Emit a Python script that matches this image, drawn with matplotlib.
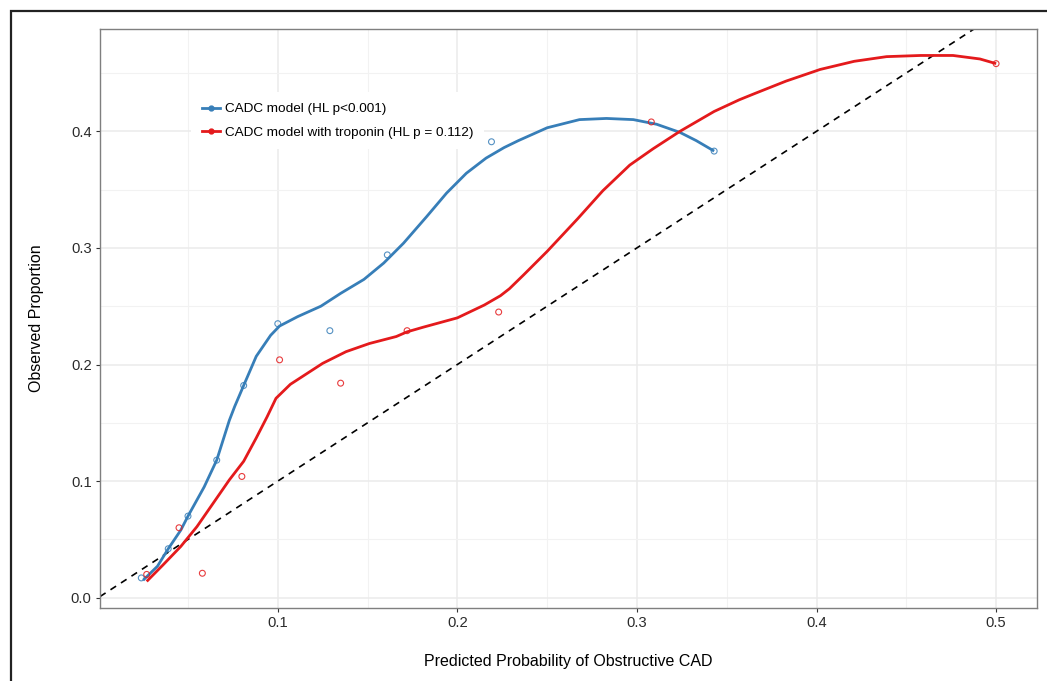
import matplotlib
matplotlib.use("Agg")
import matplotlib.pyplot as plt
from matplotlib.lines import Line2D
from matplotlib.ticker import MultipleLocator

plt.rcParams['font.family'] = ['Liberation Sans', 'DejaVu Sans']

# Observed vs predicted risk by decile
blue_pts_x = [0.024, 0.039, 0.050, 0.066, 0.081, 0.100, 0.129, 0.161, 0.219, 0.343]
blue_pts_y = [0.017, 0.042, 0.070, 0.118, 0.182, 0.235, 0.229, 0.294, 0.391, 0.383]
red_pts_x = [0.027, 0.045, 0.058, 0.080, 0.101, 0.135, 0.172, 0.223, 0.308, 0.500]
red_pts_y = [0.020, 0.060, 0.021, 0.104, 0.204, 0.184, 0.229, 0.245, 0.408, 0.458]

# Smoothed calibration curves
blue_curve_x = [0.025, 0.033, 0.039, 0.046, 0.050, 0.059, 0.066, 0.073, 0.076, 0.081,
                0.088, 0.096, 0.101, 0.111, 0.124, 0.135, 0.148, 0.159, 0.170, 0.183,
                0.194, 0.205, 0.216, 0.226, 0.234, 0.250, 0.268, 0.283, 0.298, 0.311,
                0.324, 0.333, 0.343]
blue_curve_y = [0.015, 0.027, 0.042, 0.058, 0.070, 0.095, 0.118, 0.152, 0.164, 0.182,
                0.207, 0.225, 0.233, 0.241, 0.250, 0.261, 0.273, 0.287, 0.304, 0.327,
                0.347, 0.364, 0.377, 0.386, 0.392, 0.403, 0.410, 0.411, 0.410, 0.406,
                0.399, 0.392, 0.383]
red_curve_x = [0.027, 0.036, 0.046, 0.055, 0.064, 0.073, 0.081, 0.088, 0.094, 0.099,
               0.107, 0.111, 0.125, 0.138, 0.151, 0.166, 0.172, 0.181, 0.200, 0.215,
               0.224, 0.229, 0.237, 0.250, 0.267, 0.281, 0.296, 0.309, 0.324, 0.343,
               0.357, 0.365, 0.383, 0.402, 0.421, 0.439, 0.458, 0.476, 0.491, 0.500]
red_curve_y = [0.014, 0.028, 0.044, 0.061, 0.081, 0.101, 0.117, 0.137, 0.155, 0.171,
               0.183, 0.187, 0.201, 0.211, 0.218, 0.224, 0.228, 0.232, 0.240, 0.251,
               0.259, 0.265, 0.277, 0.297, 0.325, 0.349, 0.371, 0.385, 0.400, 0.417,
               0.427, 0.432, 0.443, 0.453, 0.460, 0.464, 0.465, 0.465, 0.462, 0.458]

labels = ["CADC model (HL p<0.001)", "CADC model with troponin (HL p = 0.112)"]
x_ticks = [0.1, 0.2, 0.3, 0.4, 0.5]
y_ticks = [0.0, 0.1, 0.2, 0.3, 0.4]

BLUE = "#377EB8"
RED = "#E41A1C"

fig = plt.figure(figsize=(10.47, 6.81), dpi=100)
ax = fig.add_axes([100 / 1047, 1 - 608 / 681, 936.5 / 1047, 579 / 681])

ax.set_xlim(0.001, 0.5225)
ax.set_ylim(-0.0088, 0.4877)

ax.set_xticks(x_ticks)
ax.set_xticklabels([f"{v:.1f}" for v in x_ticks])
ax.set_yticks(y_ticks)
ax.set_yticklabels([f"{v:.1f}" for v in y_ticks])
ax.xaxis.set_minor_locator(MultipleLocator(0.05))
ax.yaxis.set_minor_locator(MultipleLocator(0.05))

ax.grid(which='major', color='#ebebeb', linewidth=1.1, zorder=0)
ax.grid(which='minor', color='#f2f2f2', linewidth=0.8, zorder=0)
ax.set_axisbelow(True)
ax.tick_params(which='major', length=3, width=0.8, color='#333333',
               labelsize=10.6, labelcolor='#2b2b2b', pad=3)
ax.tick_params(which='minor', length=0)
for s in ax.spines.values():
    s.set_color('#7f7f7f')
    s.set_linewidth(1.0)

# identity line
ax.axline((0, 0), slope=1, color='black', linestyle=(0, (4, 3.5)), linewidth=1.2, zorder=2)

ax.plot(blue_curve_x, blue_curve_y, color=BLUE, linewidth=2.0, zorder=3,
        solid_capstyle='butt', solid_joinstyle='round')
ax.plot(red_curve_x, red_curve_y, color=RED, linewidth=2.0, zorder=3,
        solid_capstyle='butt', solid_joinstyle='round')
ax.scatter(blue_pts_x, blue_pts_y, s=18, facecolors='none', edgecolors=BLUE,
           linewidths=0.8, alpha=0.85, zorder=4)
ax.scatter(red_pts_x, red_pts_y, s=18, facecolors='none', edgecolors=RED,
           linewidths=0.8, alpha=0.85, zorder=4)

ax.set_xlabel("Predicted Probability of Obstructive CAD", fontsize=11.5, labelpad=17)
ax.set_ylabel("Observed Proportion", fontsize=11.5, labelpad=19)

handles = [Line2D([], [], color=BLUE, linewidth=2.0, marker='o', markersize=3.5),
           Line2D([], [], color=RED, linewidth=2.0, marker='o', markersize=3.5)]
leg = ax.legend(handles, labels, loc='upper left', bbox_to_anchor=(0.097, 0.891),
                frameon=True, facecolor='white', edgecolor='none', framealpha=1.0,
                fancybox=False, fontsize=9.7, handlelength=1.35, handletextpad=0.4,
                labelspacing=0.8, borderpad=0.8, borderaxespad=0)

# outer frame
fig.add_artist(Line2D([11 / 1047, 11 / 1047, 1.0], [0.0, 1 - 11 / 681, 1 - 11 / 681],
                      transform=fig.transFigure, color='#222222', linewidth=1.6,
                      solid_joinstyle='miter'))

fig.savefig("out.png", dpi=100)
